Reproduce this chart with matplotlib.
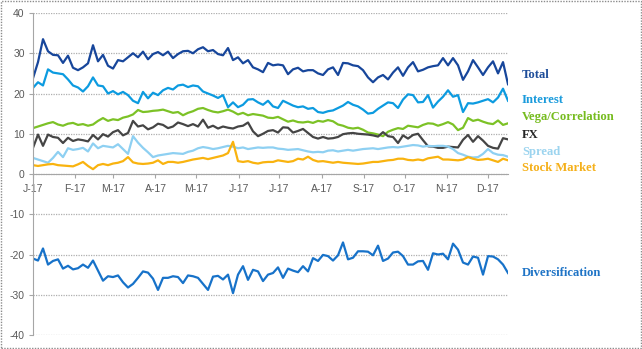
import matplotlib
matplotlib.use("Agg")
import matplotlib.pyplot as plt
import matplotlib.dates as mdates
from matplotlib.patches import Rectangle
import pandas as pd

plt.rcParams['axes.unicode_minus'] = False

# risk contributions, sampled roughly every 3-4 days over 2017
total = [23.8, 27.8, 33.5, 30.5, 29.6, 29.5, 27.6, 29.4, 26.4, 25.8,
         26.5, 27.5, 32.0, 28.0, 29.6, 26.9, 26.2, 28.3, 28.0, 29.0,
         30.0, 29.0, 30.4, 28.5, 29.8, 30.3, 29.5, 30.4, 28.8, 29.8,
         30.5, 30.6, 30.0, 31.0, 31.5, 30.5, 30.8, 29.8, 29.5, 31.3,
         28.3, 29.0, 27.5, 28.3, 26.5, 26.0, 25.3, 27.6, 27.0, 27.2,
         27.0, 24.8, 26.0, 26.4, 25.5, 25.8, 25.8, 25.0, 24.6, 26.0,
         26.5, 24.6, 27.6, 27.5, 27.0, 26.8, 25.8, 24.0, 22.8, 24.0,
         24.6, 23.5, 25.2, 26.5, 24.4, 26.5, 27.8, 25.5, 25.9, 26.5,
         26.8, 27.0, 28.8, 27.0, 28.8, 27.0, 23.4, 25.5, 28.3, 26.5,
         24.6, 26.5, 28.0, 25.0, 27.8, 22.3]
interest = [21.4, 22.8, 22.0, 26.0, 25.2, 25.0, 24.8, 23.5, 22.0, 21.5,
            20.5, 21.8, 24.0, 22.0, 21.8, 20.0, 20.6, 19.8, 20.4, 19.6,
            18.2, 17.6, 20.4, 18.8, 20.2, 19.6, 20.8, 21.4, 21.0, 22.0,
            22.2, 21.6, 22.0, 21.8, 20.5, 20.0, 19.5, 18.9, 19.6, 16.6,
            17.8, 16.6, 17.2, 18.5, 18.6, 17.8, 17.2, 18.2, 16.8, 16.4,
            18.2, 17.6, 17.0, 16.6, 16.8, 16.2, 16.4, 15.4, 15.2, 15.6,
            15.8, 16.4, 17.0, 17.9, 17.2, 16.8, 16.0, 15.0, 15.2, 16.2,
            17.0, 17.8, 17.6, 16.4, 18.5, 19.8, 19.6, 17.8, 17.9, 19.6,
            16.5, 18.0, 19.2, 20.8, 19.2, 19.6, 15.4, 17.6, 17.5, 17.8,
            18.2, 18.6, 17.8, 19.0, 21.2, 18.2]
vega = [11.4, 11.8, 12.2, 12.6, 12.9, 12.3, 12.0, 12.5, 12.7, 12.2,
        12.4, 12.0, 12.3, 13.2, 13.9, 13.2, 13.6, 13.4, 14.0, 14.3,
        14.8, 15.9, 15.4, 15.5, 15.7, 15.8, 16.0, 15.6, 15.2, 15.4,
        14.6, 15.2, 15.6, 16.2, 16.4, 15.9, 15.5, 15.3, 15.6, 16.0,
        15.5, 14.8, 15.2, 14.6, 14.9, 14.7, 14.5, 14.0, 13.9, 14.2,
        13.6, 13.0, 13.3, 12.9, 12.8, 13.0, 12.7, 13.2, 13.0, 13.4,
        13.1, 12.3, 12.0, 11.5, 11.3, 11.5, 11.0, 10.3, 10.1, 9.8,
        9.4, 10.5, 11.0, 11.4, 11.2, 12.0, 11.8, 11.6, 12.2, 12.6,
        12.5, 12.0, 12.4, 12.9, 12.3, 10.9, 11.5, 13.9, 13.2, 13.5,
        13.0, 12.6, 12.4, 13.3, 12.2, 12.6]
fx = [6.5, 9.8, 7.0, 9.8, 9.2, 9.0, 7.7, 9.0, 8.2, 8.6,
      8.4, 8.1, 9.7, 8.6, 9.9, 9.3, 10.4, 10.9, 9.6, 10.2,
      13.2, 11.8, 12.1, 11.1, 11.6, 12.5, 12.2, 11.4, 11.8, 12.8,
      12.4, 11.9, 12.4, 11.8, 13.5, 11.5, 12.0, 11.3, 11.8, 11.5,
      11.3, 11.8, 12.0, 12.8, 10.6, 9.4, 10.0, 10.7, 10.9, 10.3,
      11.6, 11.5, 10.3, 10.7, 11.2, 10.2, 9.2, 8.8, 9.2, 8.8,
      8.9, 9.2, 9.9, 10.1, 10.2, 10.0, 9.9, 9.8, 9.6, 9.3,
      10.4, 9.4, 9.2, 7.7, 9.6, 8.8, 9.7, 10.0, 8.4, 6.9,
      6.8, 6.5, 6.5, 6.8, 6.7, 6.6, 8.5, 9.7, 8.0, 9.4,
      8.3, 7.0, 6.5, 6.3, 8.9, 8.6]
spread = [4.0, 3.6, 3.2, 2.8, 4.0, 5.5, 4.2, 6.4, 6.0, 6.2,
          6.5, 5.6, 7.6, 6.4, 7.0, 6.8, 6.6, 7.4, 6.2, 5.0,
          9.4, 7.8, 6.5, 5.4, 4.2, 4.6, 4.8, 5.0, 5.2, 5.1,
          5.0, 5.5, 5.8, 6.4, 6.7, 6.5, 6.2, 6.4, 6.7, 7.0,
          6.8, 6.4, 6.6, 6.2, 6.4, 6.6, 6.5, 6.6, 6.6, 6.3,
          6.2, 6.0, 6.1, 6.2, 5.9, 5.6, 5.4, 5.5, 5.4, 5.8,
          5.9, 5.6, 5.8, 6.0, 5.8, 6.0, 6.2, 6.3, 6.4, 6.2,
          6.4, 6.6, 6.7, 6.6, 6.8, 7.0, 7.2, 7.1, 6.8, 7.0,
          6.9, 7.0, 7.0, 6.8, 6.2, 5.2, 4.8, 4.3, 4.1, 4.2,
          5.0, 6.2, 5.2, 4.8, 4.7, 4.3]
stock = [2.2, 2.0, 2.2, 2.4, 2.5, 2.2, 2.1, 2.0, 1.9, 2.4,
         3.0, 2.0, 1.2, 2.2, 2.5, 2.2, 2.6, 2.8, 3.2, 4.2,
         2.9, 2.6, 2.5, 2.6, 2.8, 3.4, 2.5, 3.0, 3.0, 2.8,
         3.0, 3.3, 3.6, 3.8, 4.0, 3.7, 4.0, 4.3, 4.6, 5.2,
         8.0, 3.2, 3.0, 3.2, 2.8, 2.6, 2.9, 3.0, 3.0, 3.4,
         3.2, 3.0, 3.2, 3.8, 3.6, 4.3, 3.5, 3.1, 3.2, 3.0,
         2.8, 3.0, 2.8, 2.7, 2.6, 2.5, 2.6, 2.8, 3.0, 3.0,
         3.2, 3.4, 3.5, 3.8, 3.8, 3.5, 3.4, 3.6, 3.4, 3.9,
         4.1, 4.3, 3.6, 3.6, 3.5, 3.4, 3.6, 4.2, 3.8, 3.5,
         3.6, 3.8, 3.4, 3.0, 3.8, 3.4]
diversification = [-21.0, -21.5, -18.5, -22.5, -21.6, -21.2, -23.5, -22.8, -23.7, -23.4,
                   -22.5, -23.3, -21.5, -24.0, -26.5, -25.4, -25.6, -25.2, -26.9, -28.2,
                   -27.3, -25.8, -24.2, -24.5, -26.0, -28.8, -25.8, -25.8, -25.4, -25.6,
                   -27.1, -25.2, -25.4, -25.8, -27.3, -28.8, -25.5, -25.3, -26.2, -25.0,
                   -29.6, -25.0, -22.9, -26.3, -23.8, -24.2, -26.6, -25.0, -24.6, -23.2,
                   -25.8, -23.5, -24.0, -24.4, -22.9, -24.2, -20.9, -21.6, -20.1, -20.4,
                   -21.5, -20.2, -17.0, -21.2, -20.8, -19.2, -19.2, -19.3, -20.2, -17.8,
                   -21.6, -21.0, -19.5, -19.3, -20.4, -22.5, -22.5, -21.7, -21.6, -23.8,
                   -19.7, -20.0, -19.8, -21.2, -17.3, -18.8, -22.0, -22.5, -20.5, -20.8,
                   -25.0, -20.4, -20.5, -21.2, -22.5, -24.6]

dates = pd.date_range('2017-01-01', '2017-12-16', periods=len(total))

series = [
    ('Total', total, '#17469B', '#1F4E9A', 24.6),
    ('Interest', interest, '#0C9BE0', '#1A9BDC', 18.4),
    ('Vega/Correlation', vega, '#7CC226', '#76BC1F', 14.2),
    ('FX', fx, '#454545', '#262626', 9.7),
    ('Spread', spread, '#8ED0F2', '#9CD4EF', 5.5),
    ('Stock Market', stock, '#F9B30F', '#F5B01A', 1.5),
    ('Diversification', diversification, '#1772C9', '#1F74C6', -24.6),
]

fig = plt.figure(figsize=(6.42, 3.49), dpi=100)
ax = fig.add_axes([0.0514, 0.0401, 0.7399, 0.9226])

for name, vals, color, lab_color, lab_y in series:
    ax.plot(dates, vals, color=color, lw=1.6, solid_joinstyle='round')
    ax.annotate(name, xy=(1.0, lab_y), xycoords=('axes fraction', 'data'),
                xytext=(14, 0), textcoords='offset pixels',
                ha='left', va='center', color=lab_color, fontsize=9.1,
                fontweight='bold', family='Liberation Serif')

ax.set_ylim(-40, 40)
ax.set_xlim(pd.Timestamp('2017-01-01'), pd.Timestamp('2017-12-16'))
ax.set_yticks(range(-40, 41, 10))

# dotted gridlines, the zero line doubles as the date axis
ax.grid(axis='y', linestyle=(0, (1, 1)), color='#AFAFAF', lw=0.9)
ax.set_axisbelow(True)
for side in ['top', 'right']:
    ax.spines[side].set_visible(False)
ax.spines['bottom'].set_position(('data', 0))
ax.spines['bottom'].set_color('#A6A6A6')
ax.spines['left'].set_color('#A6A6A6')

ax.xaxis.set_major_locator(mdates.MonthLocator())
ax.xaxis.set_major_formatter(
    plt.FuncFormatter(lambda v, pos: mdates.num2date(v).strftime('%b')[0] + '-' +
                      mdates.num2date(v).strftime('%y')))
ax.tick_params(axis='x', length=3, color='#A6A6A6', labelsize=7.5,
               labelcolor='#595959', pad=4)
ax.tick_params(axis='y', length=3, color='#A6A6A6', labelsize=7.5,
               labelcolor='#595959', pad=3)
for lab in ax.get_xticklabels() + ax.get_yticklabels():
    lab.set_family('Liberation Sans')

# dotted chart-area border
fig.patches.append(Rectangle((0.001, 0.002), 0.997, 0.995, transform=fig.transFigure,
                             fill=False, edgecolor='#8C8C8C', lw=1,
                             linestyle=(0, (1, 1))))

fig.savefig('out.png', dpi=100)
